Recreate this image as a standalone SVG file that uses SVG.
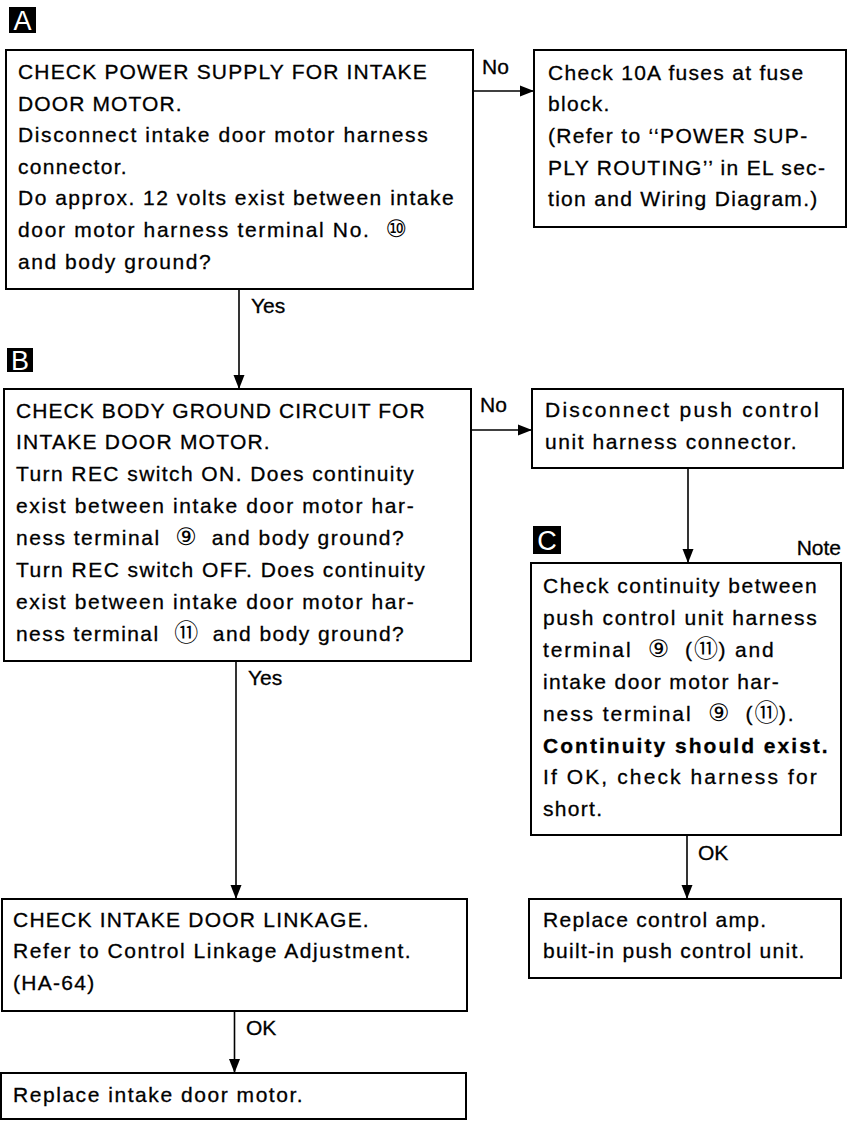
<svg xmlns="http://www.w3.org/2000/svg" width="853" height="1121" viewBox="0 0 853 1121">
<defs>
<marker id="arr" markerUnits="userSpaceOnUse" markerWidth="14" markerHeight="12" refX="14" refY="6" orient="auto">
<path d="M0,0.5 L14,6 L0,11.5 z" fill="#000"/>
</marker>
<style>
.box{fill:#fff;stroke:#000;stroke-width:2}
.t{font-family:"Liberation Sans","DejaVu Sans","Noto Sans CJK JP",sans-serif;font-size:21px;letter-spacing:1.3px;fill:#000;stroke:#000;stroke-width:0.3px;white-space:pre}
.n{font-family:"DejaVu Sans","Noto Sans CJK JP",sans-serif;font-size:24px;letter-spacing:0;stroke:none}
.b{font-weight:bold}
.lbl{font-family:"Liberation Sans","DejaVu Sans",sans-serif;font-size:21px;fill:#000;stroke:#000;stroke-width:0.3px}
.tag{fill:#000}
.tagt{font-family:"Liberation Sans","DejaVu Sans",sans-serif;font-size:27px;fill:#fff;text-anchor:middle}
.c{fill:none;stroke:#000;stroke-width:1.6;marker-end:url(#arr)}
</style>
</defs>
<rect width="853" height="1121" fill="#fff"/>

<g id="connectors">
<line class="c" x1="473" y1="91" x2="534" y2="91"/>
<line class="c" x1="239" y1="289" x2="239" y2="389"/>
<line class="c" x1="471" y1="430" x2="532" y2="430"/>
<line class="c" x1="688" y1="468" x2="688" y2="563"/>
<line class="c" x1="236" y1="661" x2="236" y2="899"/>
<line class="c" x1="687" y1="835" x2="687" y2="899"/>
<line class="c" x1="234.5" y1="1011" x2="234.5" y2="1073"/>
<text class="lbl" x="482" y="74">No</text>
<text class="lbl" x="251" y="313">Yes</text>
<text class="lbl" x="480" y="412">No</text>
<text class="lbl" x="248" y="685">Yes</text>
<text class="lbl" x="698" y="860">OK</text>
<text class="lbl" x="246" y="1035">OK</text>
</g>

<g id="tagA"><rect class="tag" x="9" y="7" width="27" height="26"/><text class="tagt" x="22.5" y="30">A</text></g>
<g id="tagB"><rect class="tag" x="7" y="348" width="26" height="24"/><text class="tagt" x="20" y="370">B</text></g>
<g id="tagC"><rect class="tag" x="533" y="526" width="28" height="28"/><text class="tagt" x="547" y="550">C</text></g>

<g id="nodeA">
<rect class="box" x="6" y="50" width="467" height="239"/>
<text class="t" x="18" y="79" textLength="410" lengthAdjust="spacing">CHECK POWER SUPPLY FOR INTAKE</text>
<text class="t" x="18" y="111" textLength="165" lengthAdjust="spacing">DOOR MOTOR.</text>
<text class="t" x="18" y="142" textLength="411" lengthAdjust="spacing">Disconnect intake door motor harness</text>
<text class="t" x="18" y="174" textLength="110" lengthAdjust="spacing">connector.</text>
<text class="t" x="18" y="205" textLength="437" lengthAdjust="spacing">Do approx. 12 volts exist between intake</text>
<text class="t" x="18" y="237" textLength="389" lengthAdjust="spacing">door motor harness terminal No.  <tspan class="n">⑩</tspan></text>
<text class="t" x="18" y="269" textLength="194" lengthAdjust="spacing">and body ground?</text>
</g>

<g id="nodeFuse">
<rect class="box" x="534" y="50" width="312" height="177"/>
<text class="t" x="548" y="80">Check 10A fuses at fuse</text>
<text class="t" x="548" y="111">block.</text>
<text class="t" x="548" y="143">(Refer to ‘‘POWER SUP-</text>
<text class="t" x="548" y="175">PLY ROUTING’’ in EL sec-</text>
<text class="t" x="548" y="206">tion and Wiring Diagram.)</text>
</g>

<g id="nodeB">
<rect class="box" x="4" y="389" width="467" height="272"/>
<text class="t" x="16" y="418" textLength="410" lengthAdjust="spacing">CHECK BODY GROUND CIRCUIT FOR</text>
<text class="t" x="16" y="449" textLength="255" lengthAdjust="spacing">INTAKE DOOR MOTOR.</text>
<text class="t" x="16" y="481" textLength="399" lengthAdjust="spacing">Turn REC switch ON. Does continuity</text>
<text class="t" x="16" y="513" textLength="399" lengthAdjust="spacing">exist between intake door motor har-</text>
<text class="t" x="16" y="545" textLength="389" lengthAdjust="spacing">ness terminal  <tspan class="n">⑨</tspan>  and body ground?</text>
<text class="t" x="16" y="577" textLength="410" lengthAdjust="spacing">Turn REC switch OFF. Does continuity</text>
<text class="t" x="16" y="609" textLength="399" lengthAdjust="spacing">exist between intake door motor har-</text>
<text class="t" x="16" y="641" textLength="389" lengthAdjust="spacing">ness terminal  <tspan class="n">⑪</tspan>  and body ground?</text>
</g>

<g id="nodeDisconnect">
<rect class="box" x="532" y="389" width="311" height="79"/>
<text class="t" x="545" y="417" textLength="275" lengthAdjust="spacing">Disconnect push control</text>
<text class="t" x="545" y="449" textLength="253" lengthAdjust="spacing">unit harness connector.</text>
</g>

<g id="nodeC">
<text class="lbl" x="841" y="555" text-anchor="end">Note</text>
<rect class="box" x="531" y="563" width="310" height="272"/>
<text class="t" x="543" y="593" textLength="275" lengthAdjust="spacing">Check continuity between</text>
<text class="t" x="543" y="625" textLength="275" lengthAdjust="spacing">push control unit harness</text>
<text class="t" x="543" y="657" textLength="232" lengthAdjust="spacing">terminal  <tspan class="n">⑨</tspan>  (<tspan class="n">⑪</tspan>) and</text>
<text class="t" x="543" y="689" textLength="237" lengthAdjust="spacing">intake door motor har-</text>
<text class="t" x="543" y="721" textLength="252" lengthAdjust="spacing">ness terminal  <tspan class="n">⑨</tspan>  (<tspan class="n">⑪</tspan>).</text>
<text class="t b" x="543" y="753" textLength="286" lengthAdjust="spacing">Continuity should exist.</text>
<text class="t" x="543" y="784" textLength="275" lengthAdjust="spacing">If OK, check harness for</text>
<text class="t" x="543" y="816">short.</text>
</g>

<g id="nodeAmp">
<rect class="box" x="529" y="899" width="312" height="79"/>
<text class="t" x="543" y="927">Replace control amp.</text>
<text class="t" x="543" y="958">built-in push control unit.</text>
</g>

<g id="nodeLinkage">
<rect class="box" x="2" y="899" width="465" height="112"/>
<text class="t" x="13" y="927" textLength="357" lengthAdjust="spacing">CHECK INTAKE DOOR LINKAGE.</text>
<text class="t" x="13" y="958" textLength="399" lengthAdjust="spacing">Refer to Control Linkage Adjustment.</text>
<text class="t" x="13" y="990">(HA-64)</text>
</g>

<g id="nodeMotor">
<rect class="box" x="1" y="1073" width="465" height="46"/>
<text class="t" x="13" y="1102" textLength="291" lengthAdjust="spacing">Replace intake door motor.</text>
</g>
</svg>
